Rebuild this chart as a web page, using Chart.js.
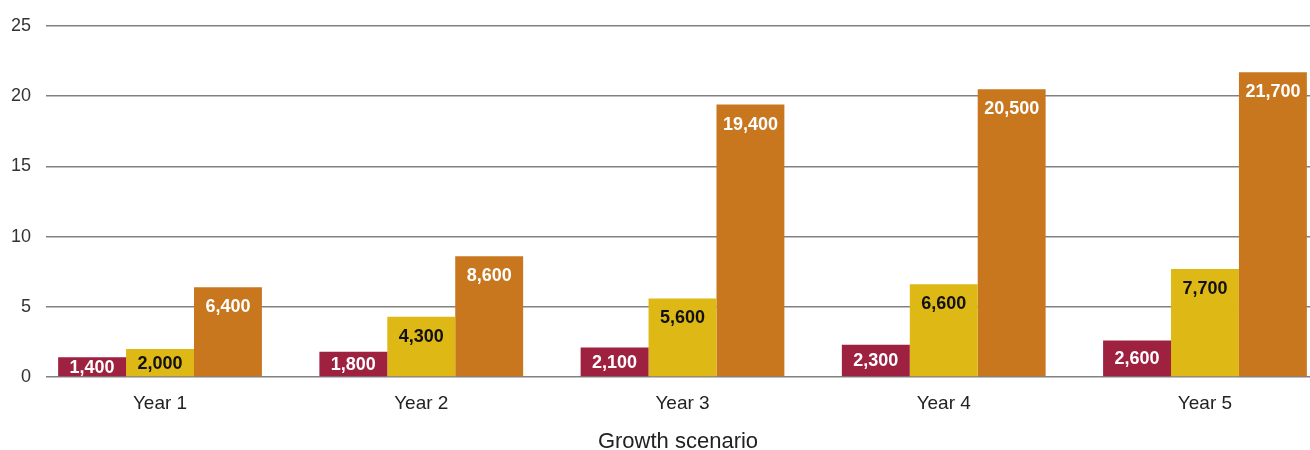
<!DOCTYPE html>
<html>
<head>
<meta charset="utf-8">
<script src="https://cdn.jsdelivr.net/npm/chart.js@4/dist/chart.umd.min.js"></script>
<style>
  html, body { margin: 0; padding: 0; background: #fff; }
  #wrap { width: 1310px; height: 450px; position: relative; }
</style>
</head>
<body>
<div id="wrap"><canvas id="chart"></canvas></div>
<script>
// Categories and series values
const categories = ['Year 1', 'Year 2', 'Year 3', 'Year 4', 'Year 5'];
const seriesA = [1400, 1800, 2100, 2300, 2600];
const seriesB = [2000, 4300, 5600, 6600, 7700];
const seriesC = [6400, 8600, 19400, 20500, 21700];
const yTicks = [0, 5, 10, 15, 20, 25];
const xTitle = 'Growth scenario';

const colors = ['#9E2140', '#DEB814', '#C8771F'];
const labelColors = ['#ffffff', '#111111', '#ffffff'];
const FONT = "'Liberation Sans', Arial, sans-serif";

const toPoints = arr => arr.map((v, i) => ({ x: i, y: v }));

// Value labels drawn inside the top of each bar
const barLabels = {
  id: 'barLabels',
  afterDatasetsDraw(chart) {
    const ctx = chart.ctx;
    ctx.save();
    ctx.font = 'bold 18px ' + FONT;
    ctx.textAlign = 'center';
    ctx.textBaseline = 'middle';
    chart.data.datasets.forEach((ds, di) => {
      const meta = chart.getDatasetMeta(di);
      meta.data.forEach((bar, i) => {
        const h = bar.base - bar.y;
        const y = bar.y + Math.min(19, h / 2);
        ctx.fillStyle = labelColors[di];
        ctx.fillText(ds.data[i].y.toLocaleString('en-US'), bar.x, y + 1);
      });
    });
    ctx.restore();
  }
};

new Chart(document.getElementById('chart'), {
  type: 'bar',
  data: {
    datasets: [seriesA, seriesB, seriesC].map((s, i) => ({
      data: toPoints(s),
      backgroundColor: colors[i],
      borderWidth: 0,
      barPercentage: 1,
      categoryPercentage: 0.78
    }))
  },
  options: {
    responsive: true,
    maintainAspectRatio: false,
    animation: false,
    layout: { padding: { left: 11, right: 0, top: 26, bottom: 0 } },
    plugins: { legend: { display: false }, tooltip: { enabled: false } },
    scales: {
      x: {
        type: 'linear',
        offset: false,
        min: -0.4365,
        max: 4.402,
        afterBuildTicks: s => { s.ticks = categories.map((_, i) => ({ value: i })); },
        ticks: {
          callback: v => categories[v],
          color: '#222',
          font: { family: FONT, size: 19, lineHeight: 1 },
          padding: 17,
          maxRotation: 0,
          autoSkip: false
        },
        grid: { display: false, drawTicks: false, offset: false },
        border: { display: false },
        title: {
          display: true,
          text: xTitle,
          color: '#222',
          font: { family: FONT, size: 22, lineHeight: 1 },
          padding: { top: 1, bottom: -3 }
        }
      },
      y: {
        min: 0,
        max: 25000,
        afterBuildTicks: s => { s.ticks = yTicks.map(t => ({ value: t * 1000 })); },
        afterFit: s => { s.width = 35; },
        ticks: {
          callback: v => String(v / 1000),
          color: '#333',
          font: { family: FONT, size: 18 },
          padding: 15
        },
        grid: { color: '#818181', lineWidth: 1.5, drawTicks: false },
        border: { display: false }
      }
    }
  },
  plugins: [barLabels]
});
</script>
</body>
</html>
